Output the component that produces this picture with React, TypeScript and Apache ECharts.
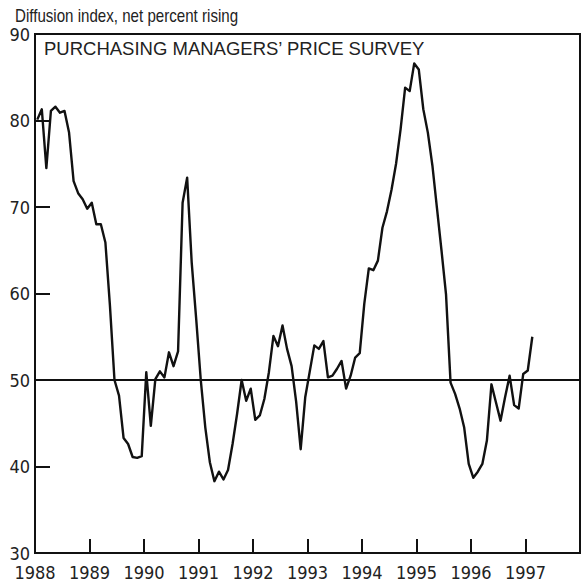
import React, { useEffect, useRef } from "react";
import * as echarts from "echarts";

// Monthly values, Jan 1988 onward (net percent rising)
const v1988 = [80.1, 81.3, 74.5, 81.1, 81.6, 80.9, 81.1, 78.6, 73.0, 71.6, 70.9, 69.8];
const v1989 = [70.5, 68.0, 68.0, 65.9, 58.6, 50.0, 48.2, 43.3, 42.6, 41.1, 41.0, 41.2];
const v1990 = [50.9, 44.7, 50.1, 51.0, 50.3, 53.2, 51.6, 53.3, 70.5, 73.4, 63.6, 57.0];
const v1991 = [50.0, 44.5, 40.5, 38.3, 39.4, 38.5, 39.6, 42.6, 46.1, 50.0, 47.6, 49.0];
const v1992 = [45.4, 45.9, 47.8, 50.9, 55.1, 53.9, 56.3, 53.6, 51.6, 47.5, 42.0, 48.0];
const v1993 = [51.0, 54.0, 53.6, 54.5, 50.3, 50.5, 51.3, 52.2, 49.0, 50.5, 52.6, 53.1];
const v1994 = [58.8, 62.9, 62.7, 63.8, 67.6, 69.5, 72.0, 75.0, 79.0, 83.8, 83.4, 86.6];
const v1995 = [85.9, 81.3, 78.6, 74.8, 69.9, 65.0, 59.9, 49.7, 48.4, 46.7, 44.5, 40.3];
const v1996 = [38.7, 39.4, 40.3, 43.0, 49.5, 47.4, 45.3, 48.0, 50.5, 47.1, 46.7, 50.7];
const v1997 = [51.1, 55.0];

const startYear = 1988;
const endYear = 1998;
const yearLabels = ["1988", "1989", "1990", "1991", "1992", "1993", "1994", "1995", "1996", "1997"];
const yTicks = [30, 40, 50, 60, 70, 80, 90];
const refLevel = 50;

const yAxisTitle = "Diffusion index, net percent rising";
const panelTitle = "PURCHASING MANAGERS\u2019 PRICE SURVEY";

const NARROW = "'Liberation Sans Narrow', 'DejaVu Sans Condensed', 'Roboto Condensed', sans-serif";
const SANS = "'Liberation Sans', Arial, Helvetica, sans-serif";

export default function App() {
  const ref = useRef<HTMLDivElement>(null);

  useEffect(() => {
    if (!ref.current) return;
    const chart = echarts.init(ref.current, null, { renderer: "svg" });
    const all = [...v1988, ...v1989, ...v1990, ...v1991, ...v1992, ...v1993, ...v1994, ...v1995, ...v1996, ...v1997];
    const data = all.map((v, i) => [i + 0.5, v]);
    const months = (endYear - startYear) * 12;

    chart.setOption({
      animation: false,
      backgroundColor: "#ffffff",
      title: [
        {
          text: panelTitle,
          left: 39,
          top: 34,
          textStyle: { fontFamily: SANS, fontSize: 18.5, fontWeight: "normal", color: "#222" },
        },
      ],
      graphic: [
        {
          type: "text",
          x: 15,
          y: 16,
          scaleX: 0.84,
          style: {
            text: yAxisTitle,
            fontFamily: SANS,
            fontSize: 18,
            fill: "#222",
            verticalAlign: "middle",
            align: "left",
          },
        },
      ],
      grid: {
        left: 35,
        right: 3,
        top: 34,
        bottom: 27,
        show: true,
        borderColor: "#111",
        borderWidth: 2,
        containLabel: false,
      },
      xAxis: {
        type: "value",
        min: 0,
        max: months,
        interval: 12,
        axisLine: { show: true, lineStyle: { color: "#111", width: 2 } },
        axisTick: { show: true, inside: true, length: 14, lineStyle: { color: "#111", width: 2 } },
        splitLine: { show: false },
        axisLabel: {
          margin: 10,
          fontFamily: NARROW,
          fontSize: 18,
          color: "#222",
          formatter: (v: number) => {
            const idx = Math.round(v / 12);
            return yearLabels[idx] ?? "";
          },
        },
      },
      yAxis: {
        type: "value",
        min: yTicks[0],
        max: yTicks[yTicks.length - 1],
        interval: 10,
        axisLine: { show: true, lineStyle: { color: "#111", width: 2 } },
        axisTick: { show: true, inside: true, length: 15, lineStyle: { color: "#111", width: 2 } },
        splitLine: { show: false },
        axisLabel: {
          margin: 5,
          fontFamily: NARROW,
          fontSize: 18,
          color: "#222",
        },
      },
      series: [
        {
          type: "line",
          data,
          showSymbol: false,
          symbol: "none",
          lineStyle: { color: "#111", width: 2.4, join: "round" },
          markLine: {
            silent: true,
            symbol: "none",
            label: { show: false },
            lineStyle: { color: "#111", width: 2, type: "solid" },
            data: [{ yAxis: refLevel }],
          },
        },
      ],
    });

    return () => chart.dispose();
  }, []);

  return (
    <div
      ref={ref}
      style={{ position: "fixed", left: 0, top: 0, width: 583, height: 581 }}
    />
  );
}
